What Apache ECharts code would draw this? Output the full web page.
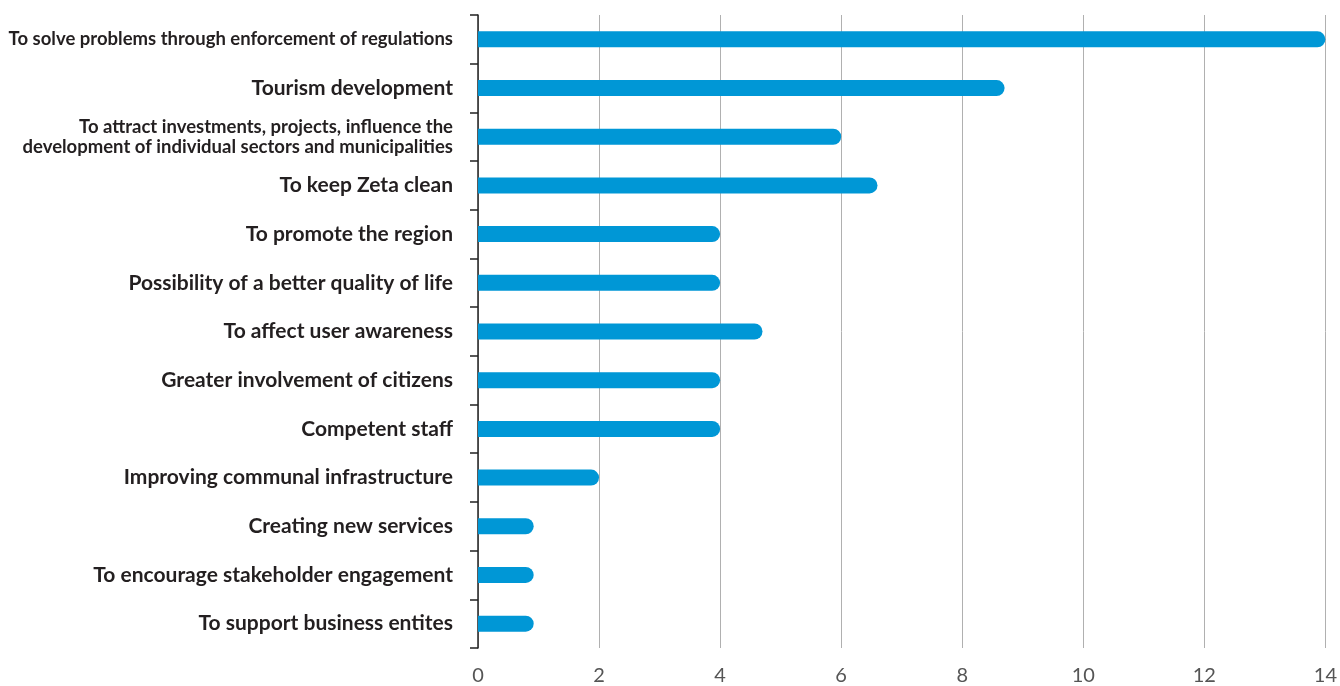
<!DOCTYPE html>
<html>
<head>
<meta charset="utf-8">
<style>
  html, body { margin: 0; padding: 0; background: #ffffff; }
  #chart { width: 1340px; height: 686px; }
</style>
<script src="https://cdn.jsdelivr.net/npm/echarts@6/dist/echarts.min.js"></script>
</head>
<body>
<div id="chart"></div>
<script>
// Reasons listed top to bottom
const categories = [
  'To solve problems through enforcement of regulations',
  'Tourism development',
  'To attract investments, projects, influence the\ndevelopment of individual sectors and municipalities',
  'To keep Zeta clean',
  'To promote the region',
  'Possibility of a better quality of life',
  'To affect user awareness',
  'Greater involvement of citizens',
  'Competent staff',
  'Improving communal infrastructure',
  'Creating new services',
  'To encourage stakeholder engagement',
  'To support business entites'
];

const values = [14, 8.7, 6, 6.6, 4, 4, 4.7, 4, 4, 2, 0.92, 0.92, 0.92];

const xTicks = [0, 2, 4, 6, 8, 10, 12, 14];

// Longer labels are set a little smaller
const smallLabels = [0, 2];

const chart = echarts.init(document.getElementById('chart'));

const catData = categories.map((c, i) => smallLabels.includes(i)
  ? { value: c, textStyle: { fontSize: 18.5, lineHeight: 20 } }
  : c);

chart.setOption({
  animation: false,
  grid: { left: 478, right: 13, top: 15, bottom: 37 },
  xAxis: {
    type: 'value',
    min: xTicks[0],
    max: xTicks[xTicks.length - 1],
    interval: 2,
    axisLine: { show: false },
    axisTick: { show: false },
    axisLabel: {
      color: '#555555',
      fontFamily: 'Lato',
      fontSize: 20,
      margin: 18
    },
    splitLine: { lineStyle: { color: '#b0b0b0', width: 1 } }
  },
  yAxis: {
    type: 'category',
    inverse: true,
    data: catData,
    axisLine: { lineStyle: { color: '#222222', width: 1.5 } },
    axisTick: { show: true, length: 8, lineStyle: { color: '#222222', width: 1.5 } },
    axisLabel: {
      color: '#231f20',
      fontFamily: 'Lato',
      fontWeight: 'bold',
      fontSize: 21,
      margin: 25,
      align: 'right'
    }
  },
  series: [{
    type: 'bar',
    data: values,
    barWidth: 16,
    itemStyle: { color: '#0097d6', borderRadius: [0, 8, 8, 0] }
  }]
});
</script>
</body>
</html>
